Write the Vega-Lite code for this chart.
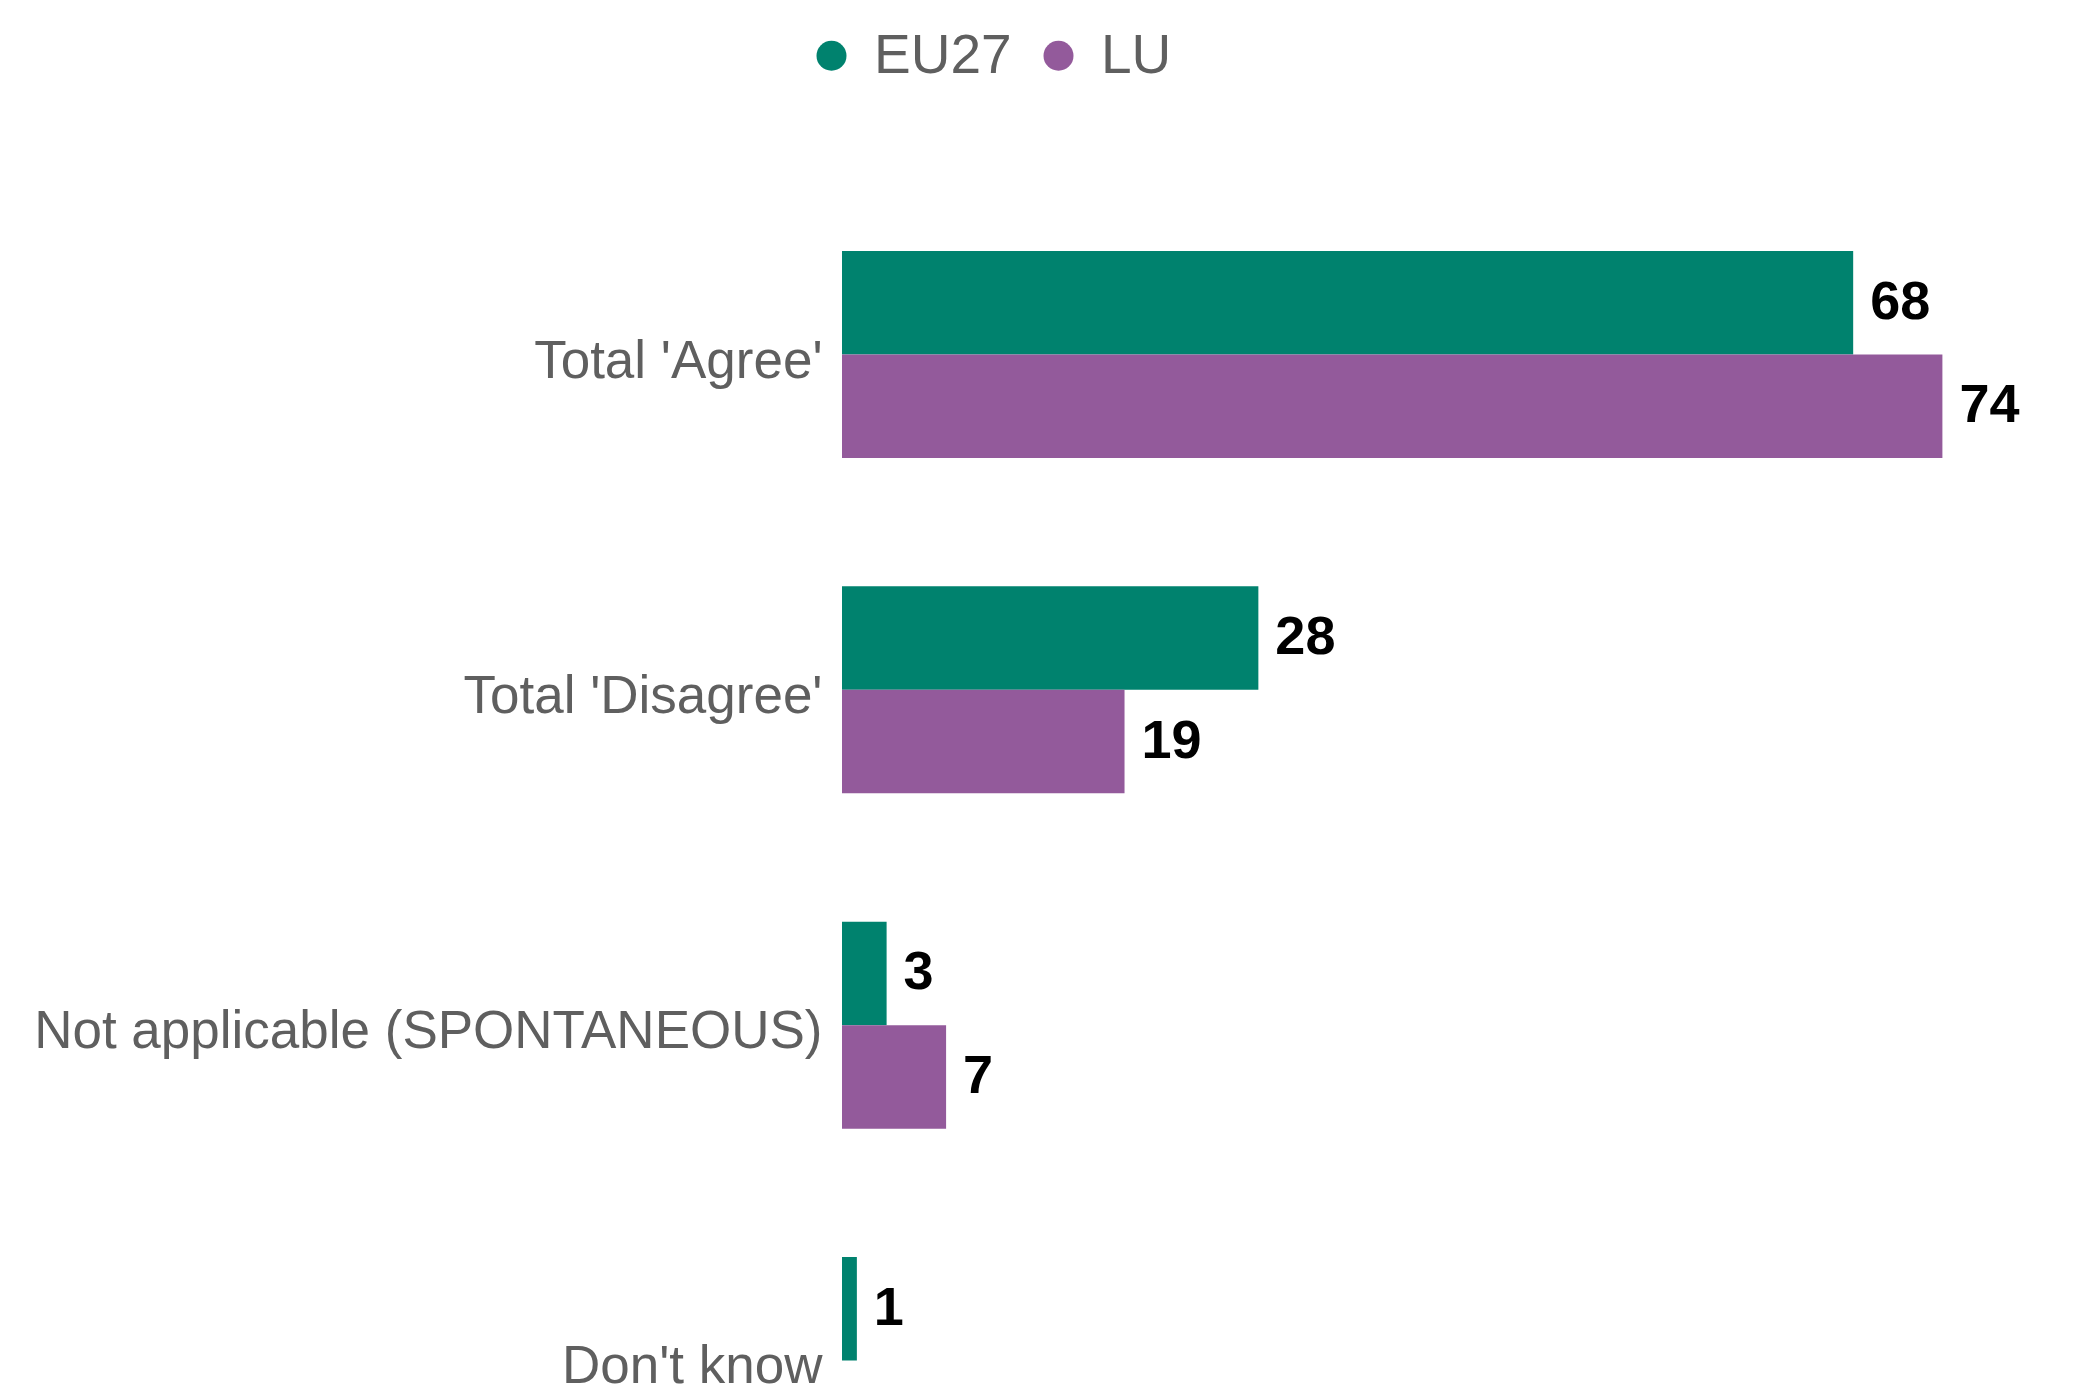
{
  "$schema": "https://vega.github.io/schema/vega-lite/v6.json",
  "width": 1232,
  "height": 1145,
  "autosize": {"type": "none"},
  "padding": {"left": 842, "top": 251, "right": 0, "bottom": 0},
  "background": "white",
  "config": {"view": {"stroke": null}, "font": "Liberation Sans"},
  "data": {
    "values": [
      {"category": "Total 'Agree'", "series": "EU27", "value": 68},
      {"category": "Total 'Agree'", "series": "LU", "value": 74},
      {"category": "Total 'Disagree'", "series": "EU27", "value": 28},
      {"category": "Total 'Disagree'", "series": "LU", "value": 19},
      {"category": "Not applicable (SPONTANEOUS)", "series": "EU27", "value": 3},
      {"category": "Not applicable (SPONTANEOUS)", "series": "LU", "value": 7},
      {"category": "Don't know", "series": "EU27", "value": 1}
    ]
  },
  "encoding": {
    "y": {
      "field": "category",
      "type": "nominal",
      "sort": ["Total 'Agree'", "Total 'Disagree'", "Not applicable (SPONTANEOUS)", "Don't know"],
      "scale": {"range": [0, 1213], "paddingInner": 0.3827, "paddingOuter": 0},
      "axis": {
        "title": null,
        "domain": false,
        "ticks": false,
        "grid": false,
        "labelFontSize": 53,
        "labelColor": "#5f5f5f",
        "labelPadding": 20,
        "labelLimit": 0,
        "labelOffset": 7,
        "labelFont": "Liberation Sans"
      }
    },
    "yOffset": {
      "field": "series",
      "type": "nominal",
      "sort": ["EU27", "LU"],
      "scale": {"paddingInner": 0, "paddingOuter": 0}
    },
    "x": {
      "field": "value",
      "type": "quantitative",
      "scale": {"domain": [0, 82.85], "nice": false},
      "axis": null
    }
  },
  "layer": [
    {
      "mark": {"type": "bar"},
      "encoding": {
        "color": {
          "field": "series",
          "type": "nominal",
          "sort": ["EU27", "LU"],
          "scale": {"domain": ["EU27", "LU"], "range": ["#00826e", "#935a9b"]},
          "legend": {
            "title": null,
            "orient": "none",
            "legendX": -38,
            "legendY": -223,
            "direction": "horizontal",
            "symbolType": "circle",
            "symbolSize": 900,
            "symbolStrokeWidth": 0,
            "labelFontSize": 55,
            "labelColor": "#5f5f5f",
            "labelFont": "Liberation Sans",
            "labelOffset": 15,
            "columnPadding": 19,
            "padding": 0
          }
        }
      }
    },
    {
      "mark": {"type": "text", "align": "left", "baseline": "middle", "dx": 17, "fontSize": 54, "fontWeight": "bold", "color": "black", "font": "Liberation Sans"},
      "encoding": {"text": {"field": "value", "type": "quantitative"}}
    }
  ]
}
